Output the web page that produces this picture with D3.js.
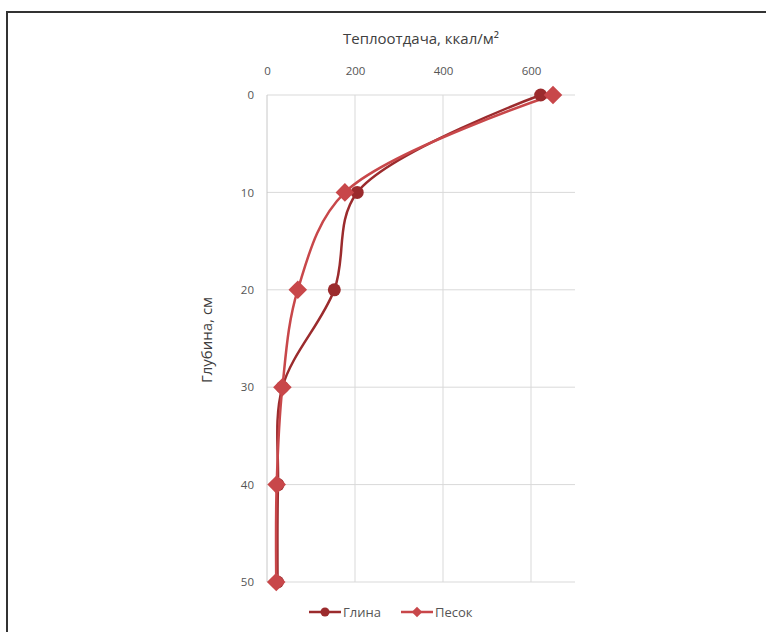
<!DOCTYPE html>
<html><head><meta charset="utf-8">
<script src="https://cdn.jsdelivr.net/npm/d3@7"></script>
<style>body{margin:0;background:#fff}svg{display:block}text{font-family:"Open Sans",sans-serif}</style>
</head><body><svg id="c" width="766" height="632"></svg>
<script>
const depths = [0, 10, 20, 30, 40, 50];
const glina = [622, 205, 153, 35, 25, 24];
const pesok = [650, 177, 70, 35, 22, 21];
const xTicks = [0, 200, 400, 600];
const yTicks = [0, 10, 20, 30, 40, 50];
const seriesNames = ["Глина", "Песок"];
const colors = ["#9b2b2d", "#c8474a"];

const svg = d3.select("#c");
svg.append("rect").attr("x",7).attr("y",12).attr("width",780).attr("height",640)
  .attr("fill","none").attr("stroke","#333").attr("stroke-width",2);

const x = d3.scaleLinear().domain([0,700]).range([267,575]);
const y = d3.scaleLinear().domain([0,50]).range([95,582]);

const g = svg.append("g");
g.selectAll(".hg").data(yTicks).join("line")
  .attr("x1",x(0)).attr("x2",x(700)).attr("y1",d=>y(d)).attr("y2",d=>y(d))
  .attr("stroke","#d9d9d9").attr("stroke-width",1);
g.selectAll(".vg").data(xTicks.filter(d=>d>0)).join("line")
  .attr("y1",y(0)).attr("y2",y(50)).attr("x1",d=>x(d)).attr("x2",d=>x(d))
  .attr("stroke","#d9d9d9").attr("stroke-width",1);
g.append("line").attr("x1",x(0)).attr("x2",x(0)).attr("y1",y(0)).attr("y2",y(50))
  .attr("stroke","#c8c8c8");

const xa = svg.append("g").attr("transform",`translate(0,${y(0)-20})`)
  .call(d3.axisTop(x).tickValues(xTicks).tickSize(0).tickPadding(0));
xa.select(".domain").remove();
xa.selectAll("text").attr("font-size",11.5).attr("fill","#555").attr("font-family","Open Sans");
const ya = svg.append("g").attr("transform",`translate(${x(0)-13},0)`)
  .call(d3.axisLeft(y).tickValues(yTicks).tickSize(0).tickPadding(0));
ya.select(".domain").remove();
ya.selectAll("text").attr("font-size",11.5).attr("fill","#555").attr("font-family","Open Sans");

svg.append("text").attr("x",421).attr("y",44).attr("text-anchor","middle")
  .attr("font-size",15).attr("fill","#404040").text("Теплоотдача, ккал/м²");
svg.append("text").attr("transform","translate(212,340) rotate(-90)").attr("text-anchor","middle")
  .attr("font-size",15).attr("fill","#404040").text("Глубина, см");

const line = d3.line().curve(d3.curveCatmullRom.alpha(0.5));
const data = [glina, pesok];
data.forEach((vals,i)=>{
  const pts = vals.map((v,j)=>[x(v), y(depths[j])]);
  svg.append("path").attr("d",line(pts)).attr("fill","none")
    .attr("stroke",colors[i]).attr("stroke-width",2.5);
});
const diamond = d3.symbol().type(d3.symbolDiamond2).size(220);
svg.selectAll(".gm").data(glina).join("circle")
  .attr("cx",d=>x(d)).attr("cy",(d,j)=>y(depths[j])).attr("r",6.5).attr("fill",colors[0]);
svg.selectAll(".pm").data(pesok).join("path")
  .attr("d",diamond).attr("transform",(d,j)=>`translate(${x(d)},${y(depths[j])})`).attr("fill",colors[1]);

const leg = svg.append("g").attr("transform","translate(0,612)");
seriesNames.forEach((n,i)=>{
  const x0 = [309, 401][i];
  leg.append("line").attr("x1",x0).attr("x2",x0+32).attr("y1",0).attr("y2",0)
    .attr("stroke",colors[i]).attr("stroke-width",2.5);
  if(i===0) leg.append("circle").attr("cx",x0+16).attr("cy",0).attr("r",4.5).attr("fill",colors[i]);
  else leg.append("path").attr("d",d3.symbol().type(d3.symbolDiamond2).size(70)).attr("transform",`translate(${x0+16},0)`).attr("fill",colors[i]);
  leg.append("text").attr("x",x0+34).attr("y",4.5).attr("font-size",13).attr("fill","#555").text(n);
});
</script></body></html>
